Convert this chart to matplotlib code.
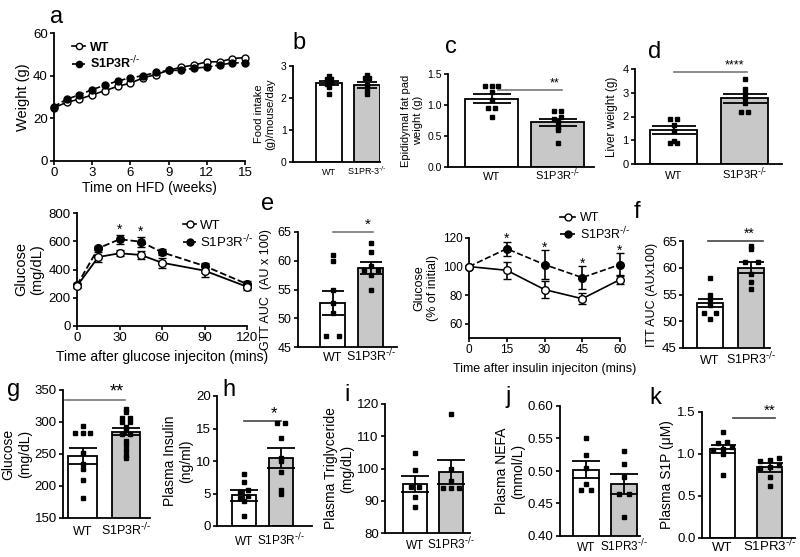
import matplotlib.pyplot as plt
from matplotlib import transforms
from matplotlib.lines import Line2D

plt.rcParams['font.family'] = ['Liberation Sans', 'DejaVu Sans']
plt.rcParams['mathtext.default'] = 'regular'

KO = r'S1P3R$^{\text{-/-}}$'
KO2 = r'S1PR3$^{\text{-/-}}$'

# a: body weight on HFD
weeks = list(range(16))
wt_weight = [25, 27.5, 29, 31, 33, 35, 36.5, 39, 40.5, 42.5, 44, 45, 46.5, 46.5, 48, 48.5]
ko_weight = [25.5, 29, 31, 33.5, 35.5, 37.5, 39, 40, 41.5, 42.5, 42.5, 43.5, 44, 45, 46, 46]

# b: food intake
food_wt = [2.7, 2.6, 2.6, 2.5, 2.45, 2.33, 2.12]
food_ko = [2.72, 2.61, 2.61, 2.4, 2.25, 2.12]
food_mean = [2.47, 2.41]
food_sem = [0.07, 0.1]

# c: epididymal fat pad
fat_wt = [1.31, 1.31, 1.31, 1.21, 1.08, 0.95, 0.95, 0.81]
fat_ko = [0.9, 0.9, 0.8, 0.78, 0.72, 0.65, 0.6, 0.39]
fat_mean = [1.1, 0.72]
fat_sem = [0.07, 0.06]

# d: liver weight
liver_wt = [1.88, 1.88, 1.65, 1.4, 0.97, 0.87, 0.87]
liver_ko = [3.58, 3.14, 3.0, 2.76, 2.55, 2.18, 2.18]
liver_mean = [1.43, 2.76]
liver_sem = [0.17, 0.18]

# GTT
gtt_time = [0, 15, 30, 45, 60, 90, 120]
wt_gtt = [283, 488, 515, 503, 448, 392, 278]
wt_gtt_sem = [15, 35, 20, 30, 35, 45, 20]
ko_gtt = [290, 550, 614, 597, 522, 425, 297]
ko_gtt_sem = [15, 15, 30, 35, 20, 20, 25]

# e: GTT AUC
gauc_wt = [61.0, 60.0, 55.0, 52.7, 51.0, 47.0, 47.0]
gauc_ko = [63.1, 61.6, 59.1, 58.4, 58.4, 57.5, 55.0]
gauc_mean = [52.7, 58.7]
gauc_sem = [2.1, 1.0]

# ITT
itt_time = [0, 15, 30, 45, 60]
wt_itt = [100, 97.4, 83.9, 77.5, 90.9]
wt_itt_sem = [0, 6, 6, 4, 3]
ko_itt = [100, 112.5, 101.4, 92.3, 101.4]
ko_itt_sem = [0, 5, 10, 8, 8]

# f: ITT AUC
iauc_wt = [58.0, 55.0, 54.1, 53.0, 51.6, 51.6, 50.4]
iauc_ko = [64.1, 63.5, 61.1, 61.1, 58.8, 57.4, 56.1]
iauc_mean = [53.4, 60.0]
iauc_sem = [0.8, 1.0]

# g: fasting glucose
glu_wt = [294, 283, 283, 283, 252, 235, 226, 209, 182]
glu_ko = [321, 315, 307, 307, 300, 300, 292, 287, 282, 282, 270, 264, 256, 249, 244]
glu_mean = [247, 285]
glu_sem = [13, 6]

# h: plasma insulin
ins_wt = [8.0, 6.7, 5.6, 5.3, 4.6, 4.3, 3.8, 1.5]
ins_ko = [15.8, 15.8, 13.5, 10.5, 10.0, 8.3, 5.6, 5.0]
ins_mean = [4.7, 10.45]
ins_sem = [0.8, 1.5]

# i: triglyceride
tg_wt = [104.8, 99.6, 94.3, 94.3, 91.2, 88.2]
tg_ko = [117.0, 100.0, 96.2, 94.0, 94.0, 94.0]
tg_mean = [95.2, 99.0]
tg_sem = [2.4, 3.7]

# j: NEFA
nefa_wt = [0.55, 0.525, 0.505, 0.48, 0.47, 0.47]
nefa_ko = [0.53, 0.51, 0.49, 0.465, 0.465, 0.43]
nefa_mean = [0.502, 0.48]
nefa_sem = [0.013, 0.015]

# k: plasma S1P
s1p_wt = [1.26, 1.14, 1.13, 1.08, 1.06, 1.05, 1.0, 0.75]
s1p_ko = [0.95, 0.93, 0.92, 0.87, 0.85, 0.83, 0.73, 0.62]
s1p_mean = [1.06, 0.84]
s1p_sem = [0.05, 0.05]

W, H = 800, 557
fig = plt.figure(figsize=(8, 5.57), dpi=100)


def px_axes(l, t, r, b, fs):
    ax = fig.add_axes([l / W, 1 - b / H, (r - l) / W, (b - t) / H])
    ax.spines['top'].set_visible(False)
    ax.spines['right'].set_visible(False)
    ax.spines['left'].set_linewidth(1.3)
    ax.spines['bottom'].set_linewidth(1.3)
    ax.tick_params(direction='out', length=3, width=1.2, pad=1.5, labelsize=fs)
    return ax


def letter(x, y, s):
    fig.text(x / W, 1 - y / H, s, fontsize=17, ha='center', va='center')


def spread(vals, tol, dx):
    xs = [0.0] * len(vals)
    order = sorted(range(len(vals)), key=lambda i: vals[i])
    groups = []
    for i in order:
        if groups and abs(vals[i] - vals[groups[-1][-1]]) <= tol:
            groups[-1].append(i)
        else:
            groups.append([i])
    for g in groups:
        n = len(g)
        for k, i in enumerate(g):
            xs[i] = (k - (n - 1) / 2) * dx
    return xs


def bar_panel(ax, groups, means, sems, width, ylim, ms, cap, dx=0.12):
    pos = [0, 1]
    ax.bar(pos, means, width=width, color=['white', '#c8c8c8'],
           edgecolor='black', linewidth=1.3, zorder=1)
    tol = (ylim[1] - ylim[0]) * 0.02
    for p, v in zip(pos, groups):
        xs = [p + o for o in spread(v, tol, dx)]
        ax.plot(xs, v, 's', color='black', ms=ms, zorder=3, clip_on=False)
    ax.errorbar(pos, means, yerr=sems, fmt='none', ecolor='black',
                elinewidth=1.3, capsize=cap, capthick=1.3, zorder=4)
    ax.set_ylim(*ylim)
    ax.set_xticks(pos)
    ax.set_xticklabels([])
    ax.tick_params(axis='x', length=0)


def xlabels(ax, labels, fs, off):
    # baseline-aligned group labels, off = pixels below the axis line
    base = transforms.blended_transform_factory(ax.transData, ax.transAxes)
    tr = transforms.offset_copy(base, fig=fig, y=-off, units='dots')
    for p, s in zip([0, 1], labels):
        ax.text(p, 0, s, transform=tr, ha='center', va='baseline', fontsize=fs)


def sig(ax, x0, x1, y, xs, text, color='#777777', fs=9):
    ax.plot([x0, x1], [y, y], color=color, lw=1.2, clip_on=False)
    ax.text(xs, y, text, ha='center', va='bottom', fontsize=fs, clip_on=False)


def handles(ms):
    return [Line2D([], [], color='black', ls='-', marker='o', mfc='white', ms=ms, lw=1.2),
            Line2D([], [], color='black', ls='--', marker='o', ms=ms, lw=1.2)]


# ---- a ----
ax = px_axes(54, 33, 245, 161, 9.5)
ax.plot(weeks, wt_weight, '-o', color='black', mfc='white', ms=5, lw=1.2, clip_on=False)
ax.plot(weeks, ko_weight, '--o', color='black', ms=5, lw=1.2, clip_on=False)
ax.set_xlim(0, 15)
ax.set_ylim(0, 60)
ax.set_xticks(range(0, 16, 3))
ax.set_yticks([0, 20, 40, 60])
ax.set_xlabel('Time on HFD (weeks)', fontsize=10, labelpad=1)
ax.set_ylabel('Weight (g)', fontsize=10.5, labelpad=2)
ax.legend(handles(4.5), ['WT', KO], loc='upper left', bbox_to_anchor=(0.07, 0.97),
          borderaxespad=0, frameon=False, handlelength=1.0,
          prop={'weight': 'bold', 'size': 9}, labelspacing=0.05, handletextpad=0.4)
letter(57, 17, 'a')

# ---- b ----
ax = px_axes(293, 66, 380, 162, 7.5)
bar_panel(ax, [food_wt, food_ko], food_mean, food_sem, 0.68, (0, 3), 2.5, 7, dx=0.1)
ax.set_xlim(-0.95, 1.35)
ax.set_yticks([0, 1, 2, 3])
xlabels(ax, ['WT', r'S1PR-3$^{\text{-/-}}$'], 6.5, 13)
ax.set_ylabel('Food intake\n(g)/mouse/day', fontsize=8, labelpad=4)
letter(299, 43, 'b')

# ---- c ----
ax = px_axes(448, 74, 594, 167, 7.5)
bar_panel(ax, [fat_wt, fat_ko], fat_mean, fat_sem, 0.8, (0, 1.5), 2.5, 14, dx=0.1)
ax.set_xlim(-0.66, 1.55)
ax.set_yticks([0, 0.5, 1.0, 1.5])
ax.set_yticklabels(['0.0', '0.5', '1.0', '1.5'])
xlabels(ax, ['WT', KO], 8, 13)
ax.set_ylabel('Epididymal fat pad\nweight (g)', fontsize=8, labelpad=3)
sig(ax, 0.1, 1.07, 1.25, 0.96, '**')
letter(451, 47, 'c')

# ---- d ----
ax = px_axes(635, 69, 782, 164, 8)
bar_panel(ax, [liver_wt, liver_ko], liver_mean, liver_sem, 0.66, (0, 4), 2.5, 16, dx=0.1)
ax.set_xlim(-0.54, 1.52)
ax.set_yticks([0, 1, 2, 3, 4])
xlabels(ax, ['WT', KO], 8, 15)
ax.set_ylabel('Liver weight (g)', fontsize=8.5, labelpad=3)
sig(ax, 0.0, 1.03, 3.89, 0.86, '****')
letter(655, 52, 'd')

# ---- GTT ----
ax = px_axes(77, 213, 247, 326, 9.5)
ax.errorbar(gtt_time, wt_gtt, yerr=wt_gtt_sem, fmt='-o', color='black', mfc='white', ms=5.5,
            lw=1.3, capsize=3, elinewidth=1.2, clip_on=False, zorder=3)
ax.errorbar(gtt_time, ko_gtt, yerr=ko_gtt_sem, fmt='--o', color='black', ms=5.5,
            lw=1.3, capsize=3, elinewidth=1.2, clip_on=False, zorder=2)
ax.set_xlim(0, 120)
ax.set_ylim(0, 800)
ax.set_xticks([0, 30, 60, 90, 120])
ax.set_yticks([0, 200, 400, 600, 800])
ax.set_xlabel('Time after glucose injeciton (mins)', fontsize=10, labelpad=4)
ax.set_ylabel('Glucose\n(mg/dL)', fontsize=10.5, labelpad=3)
for t, m, e in zip(gtt_time, ko_gtt, ko_gtt_sem):
    if t in (30, 45):
        ax.text(t, m + e - 15, '*', ha='center', va='bottom', fontsize=10)
ax.legend(handles(5), ['WT', KO], loc='upper left', bbox_to_anchor=(178 / W, 1 - 214 / H),
          bbox_transform=fig.transFigure, borderaxespad=0, frameon=False,
          fontsize=9.5, handlelength=1.0, labelspacing=0.15, handletextpad=0.3)

# ---- e ----
ax = px_axes(298, 232, 397, 347, 9)
bar_panel(ax, [gauc_wt, gauc_ko], gauc_mean, gauc_sem, 0.65, (45, 65), 3, 8, dx=0.35)
ax.set_xlim(-0.9, 1.68)
ax.set_yticks([45, 50, 55, 60, 65])
xlabels(ax, ['WT', KO], 9, 14)
ax.set_ylabel('GTT AUC  (AU x 100)', fontsize=9, labelpad=4)
sig(ax, 0.0, 1.05, 65, 0.92, '*', fs=11)
letter(268, 204, 'e')

# ---- ITT ----
ax = px_axes(469, 238, 620, 338, 8.5)
ax.errorbar(itt_time, wt_itt, yerr=wt_itt_sem, fmt='-o', color='black', mfc='white', ms=5.5,
            lw=1.2, capsize=3, elinewidth=1.2, clip_on=False, zorder=3)
ax.errorbar(itt_time, ko_itt, yerr=ko_itt_sem, fmt='--o', color='black', ms=5.5,
            lw=1.2, capsize=3, elinewidth=1.2, clip_on=False, zorder=2)
ax.set_xlim(0, 60)
ax.set_ylim(50, 120)
ax.set_xticks([0, 15, 30, 45, 60])
ax.set_yticks([60, 80, 100, 120])
ax.set_xlabel('Time after insulin injeciton (mins)', fontsize=9, labelpad=5)
ax.set_ylabel('Glucose\n(% of initial)', fontsize=9, labelpad=3)
for t, m, e in zip(itt_time, ko_itt, ko_itt_sem):
    if t > 0:
        ax.text(t, m + e - 3, '*', ha='center', va='bottom', fontsize=10, clip_on=False)
ax.legend(handles(5), ['WT', KO], loc='upper left', bbox_to_anchor=(555 / W, 1 - 207 / H),
          bbox_transform=fig.transFigure, borderaxespad=0, frameon=False, fontsize=9,
          handlelength=1.2, labelspacing=0.1, handletextpad=0.4)

# ---- f ----
ax = px_axes(683, 241, 770, 348, 9.5)
bar_panel(ax, [iauc_wt, iauc_ko], iauc_mean, iauc_sem, 0.63, (45, 65), 2.8, 9, dx=0.3)
ax.set_xlim(-0.65, 1.45)
ax.set_yticks([45, 50, 55, 60, 65])
xlabels(ax, ['WT', KO2], 9, 16)
ax.set_ylabel('ITT AUC (AUx100)', fontsize=9, labelpad=3)
sig(ax, -0.05, 1.28, 65, 0.96, '**', color='#444444', fs=10)
letter(637, 212, 'f')

# ---- g ----
ax = px_axes(63, 390, 150, 518, 9.5)
bar_panel(ax, [glu_wt, glu_ko], glu_mean, glu_sem, 0.66, (150, 350), 3, 10, dx=0.18)
ax.set_xlim(-0.45, 1.55)
ax.set_yticks([150, 200, 250, 300, 350])
xlabels(ax, ['WT', KO], 9, 17)
ax.set_ylabel('Glucose\n(mg/dL)', fontsize=10, labelpad=2)
sig(ax, -0.4, 0.97, 334, 0.79, '**', fs=13)
letter(14, 390, 'g')

# ---- h ----
ax = px_axes(217, 396, 312, 526, 9.5)
bar_panel(ax, [ins_wt, ins_ko], ins_mean, ins_sem, 0.65, (0, 20), 3, 10, dx=0.22)
ax.set_xlim(-0.73, 1.84)
ax.set_yticks([0, 5, 10, 15, 20])
xlabels(ax, ['WT', KO], 8.5, 19)
ax.set_ylabel('Plasma Insulin\n(ng/ml)', fontsize=10, labelpad=2)
sig(ax, 0.0, 1.0, 16.2, 0.81, '*', color='#444444', fs=12)
letter(229, 390, 'h')

# ---- i ----
ax = px_axes(385, 404, 470, 533, 9.5)
bar_panel(ax, [tg_wt, tg_ko], tg_mean, tg_sem, 0.67, (80, 120), 3, 10, dx=0.22)
ax.set_xlim(-0.83, 1.53)
ax.set_yticks([80, 90, 100, 110, 120])
xlabels(ax, ['WT', KO2], 8.5, 16)
ax.set_ylabel('Plasma Triglyceride\n(mg/dL)', fontsize=10, labelpad=2)
letter(347, 395, 'i')

# ---- j ----
ax = px_axes(560, 406, 640, 536, 9.5)
bar_panel(ax, [nefa_wt, nefa_ko], nefa_mean, nefa_sem, 0.68, (0.40, 0.60), 3, 10, dx=0.28)
ax.set_xlim(-0.68, 1.42)
ax.set_yticks([0.40, 0.45, 0.50, 0.55, 0.60])
ax.set_yticklabels(['0.40', '0.45', '0.50', '0.55', '0.60'])
xlabels(ax, ['WT', KO2], 8.5, 15)
ax.set_ylabel('Plasma NEFA\n(mmol/L)', fontsize=10, labelpad=2)
letter(508, 397, 'j')

# ---- k ----
ax = px_axes(702, 412, 795, 538, 9.5)
bar_panel(ax, [s1p_wt, s1p_ko], s1p_mean, s1p_sem, 0.53, (0, 1.5), 3, 9, dx=0.2)
ax.set_xlim(-0.44, 1.54)
ax.set_yticks([0, 0.5, 1.0, 1.5])
ax.set_yticklabels(['0.0', '0.5', '1.0', '1.5'])
xlabels(ax, ['WT', KO2], 9.5, 13)
ax.set_ylabel('Plasma S1P (μM)', fontsize=10, labelpad=2)
sig(ax, 0.22, 1.12, 1.43, 1.0, '**', color='#444444', fs=11)
letter(655, 398, 'k')

fig.savefig('out.png', dpi=100)
